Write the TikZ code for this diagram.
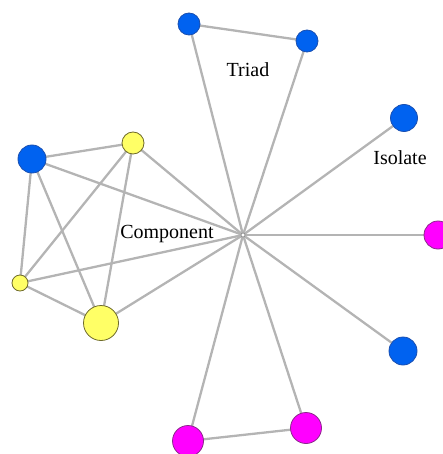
\documentclass[tikz,border=0pt]{standalone}
\usepackage{fontspec}
\setmainfont{Liberation Serif}
\usetikzlibrary{backgrounds}
\definecolor{nblue}{HTML}{0062F0}
\definecolor{nblueb}{HTML}{1A4FB0}
\definecolor{nyel}{HTML}{FFFF66}
\definecolor{nyelb}{HTML}{6E6A2A}
\definecolor{nmag}{HTML}{FF00FF}
\definecolor{nmagb}{HTML}{8A2A8A}
\definecolor{edgec}{HTML}{B4B4B4}
\tikzset{
  vert/.style={circle, inner sep=0pt, line width=0.8pt},
  bluev/.style={vert, fill=nblue, draw=nblueb},
  yelv/.style={vert, fill=nyel, draw=nyelb},
  magv/.style={vert, fill=nmag, draw=nmagb},
  hubv/.style={circle, inner sep=0pt, minimum size=4pt, fill=white, draw=gray, line width=0.6pt},
  edge/.style={draw=edgec, line width=2.3pt},
  lbl/.style={font=\fontsize{20}{23}\selectfont, inner sep=0pt}
}
\begin{document}
\begin{tikzpicture}[x=1pt,y=-1pt]
\useasboundingbox (0,0) rectangle (443,454);
\clip (0,0) rectangle (443,454);
\node[hubv] (hub) at (243,235) {};
\node[bluev, minimum size=22pt] (ta) at (189,24) {};
\node[bluev, minimum size=22pt] (tb) at (307,41) {};
\node[bluev, minimum size=27pt] (iso) at (404,118) {};
\node[bluev, minimum size=28pt] (bl) at (32,159) {};
\node[yelv, minimum size=22pt] (yt) at (133,143) {};
\node[yelv, minimum size=16pt] (ys) at (20,283) {};
\node[yelv, minimum size=35pt] (yb) at (101,323) {};
\node[magv, minimum size=28pt] (mr) at (438,235) {};
\node[bluev, minimum size=28pt] (br) at (403,351) {};
\node[magv, minimum size=31pt] (mbl) at (188,441) {};
\node[magv, minimum size=31pt] (mb) at (306,428) {};
\node[lbl] (ltriad) at (248,70) {Triad};
\node[lbl] (liso) at (400,158) {Isolate};
\node[lbl] (lcomp) at (167,234) {Component};
\begin{scope}[on background layer]
\foreach \n in {ta,tb,iso,bl,yt,ys,yb,mr,br,mbl,mb}
  \draw[edge] (hub.center) -- (\n.center);
\draw[edge] (ta.center) -- (tb.center);
\draw[edge] (mbl.center) -- (mb.center);
\draw[edge] (bl.center) -- (yt.center);
\draw[edge] (bl.center) -- (ys.center);
\draw[edge] (bl.center) -- (yb.center);
\draw[edge] (yt.center) -- (ys.center);
\draw[edge] (yt.center) -- (yb.center);
\draw[edge] (ys.center) -- (yb.center);
\end{scope}
\end{tikzpicture}
\end{document}
